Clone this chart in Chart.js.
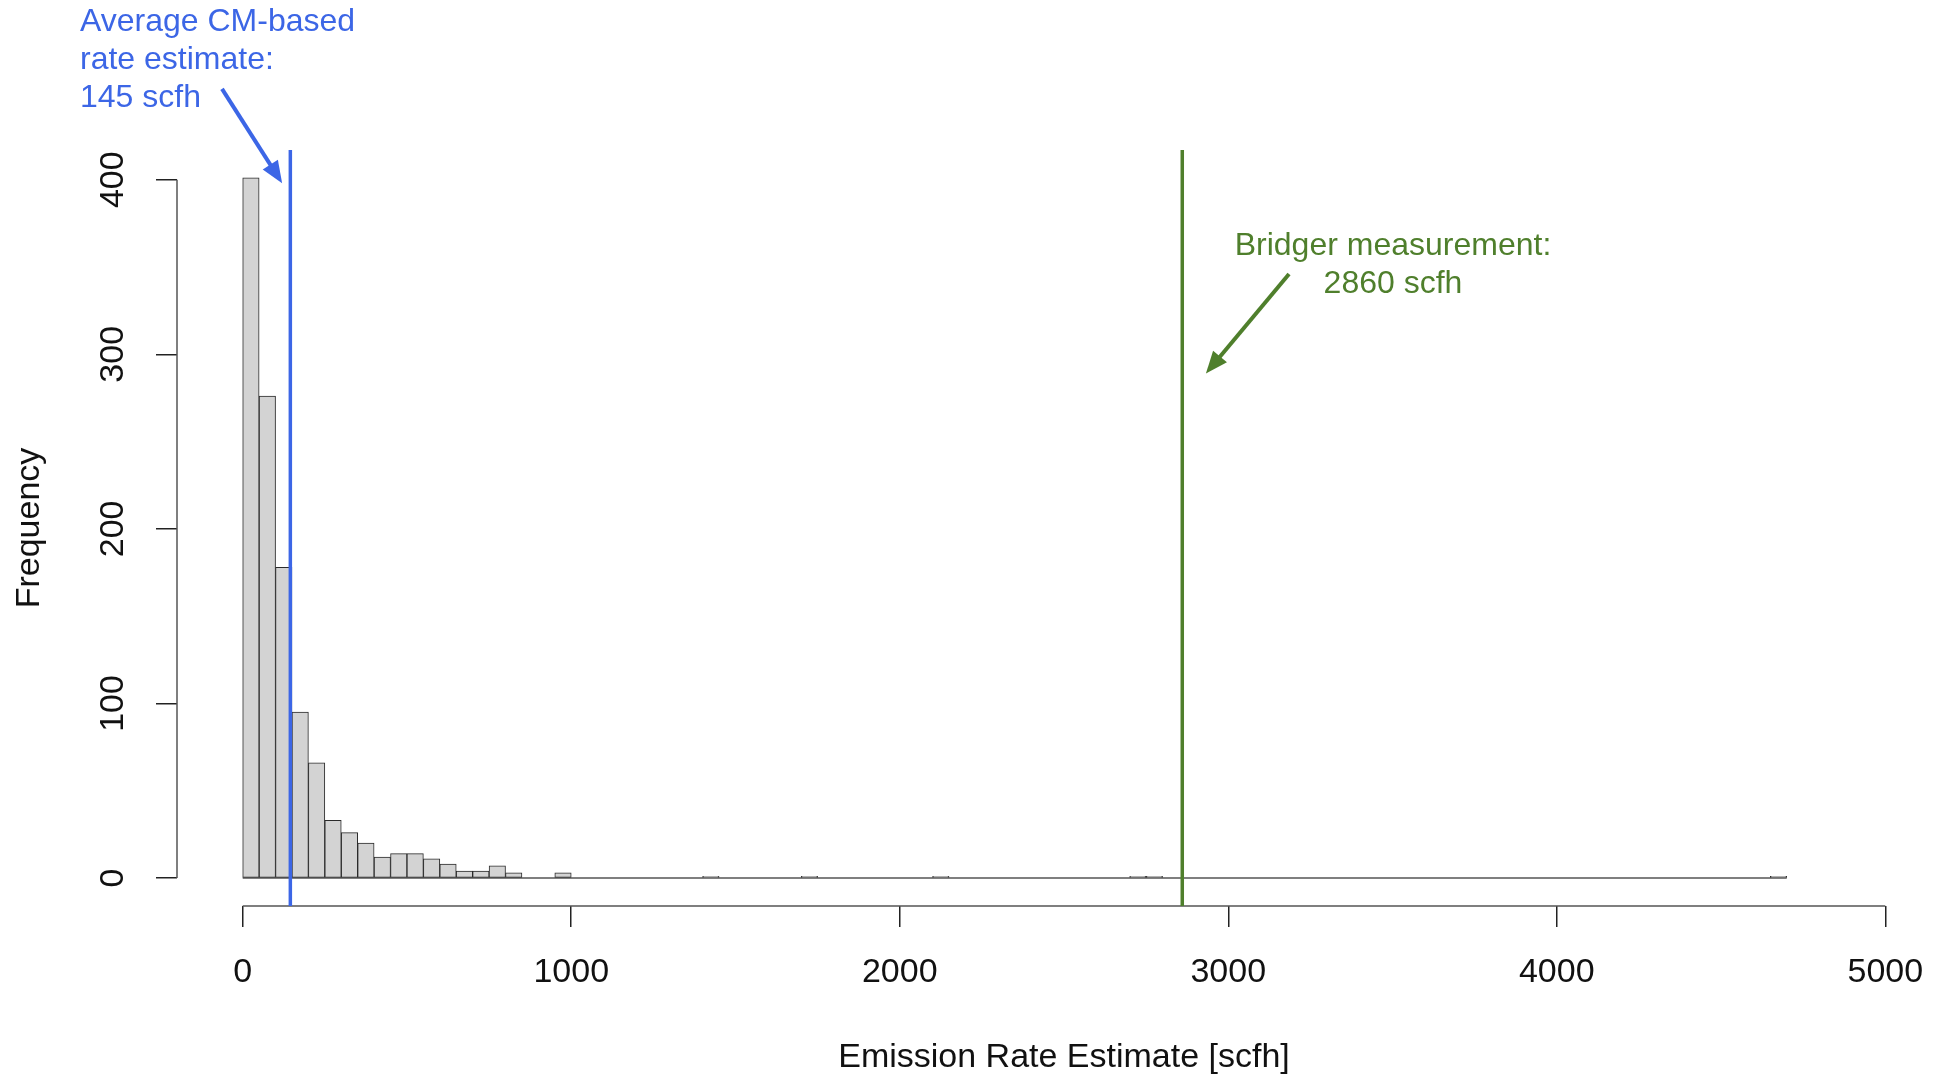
<!DOCTYPE html>
<html>
<head>
<meta charset="utf-8">
<title>Emission rate estimate histogram</title>
<script src="https://cdn.jsdelivr.net/npm/chart.js@4.4.1/dist/chart.umd.min.js"></script>
<style>
  html, body { margin: 0; padding: 0; background: #fff; overflow: hidden; }
  #wrap { width: 1951px; height: 1075px; }
</style>
</head>
<body>
<div id="wrap"><canvas id="histChart" width="1951" height="1075"></canvas></div>
<script>
// histogram bins are 50 scfh wide, each bar sits on its bin middle
const binMids = [25, 75, 125, 175, 225, 275, 325, 375, 425, 475, 525, 575, 625, 675, 725, 775, 825, 975, 1425, 1725, 2125, 2725, 2775, 4675];
const counts  = [401, 276, 178, 95, 66, 33, 26, 20, 12, 14, 14, 11, 8, 4, 4, 7, 3, 3, 1, 1, 1, 1, 1, 1];
const histRange = [0, 4700];
const xTicks = [0, 1000, 2000, 3000, 4000, 5000];
const yTicks = [0, 100, 200, 300, 400];
const cmMean = 145;
const bridgerRate = 2860;

// annotation arrows, in data units: [tail, tip]
const cmArrow = [[-63, 452], [120, 398]];
const bridgerArrow = [[3185, 346], [2932, 289]];

const fontFamily = "'Liberation Sans', Arial, Helvetica, sans-serif";
const blue = '#3c66e6';
const green = '#4f7f2c';
const axisFont = { family: fontFamily, size: 34 };

function drawArrow(ctx, x1, y1, x2, y2, color) {
  const a = Math.atan2(y2 - y1, x2 - x1);
  const c = Math.cos(a), s = Math.sin(a);
  const head = 22, half = 9;
  ctx.save();
  ctx.strokeStyle = color;
  ctx.fillStyle = color;
  ctx.lineWidth = 4;
  ctx.beginPath();
  ctx.moveTo(x1, y1);
  ctx.lineTo(x2 - c * head * 0.8, y2 - s * head * 0.8);
  ctx.stroke();
  ctx.beginPath();
  ctx.moveTo(x2, y2);
  ctx.lineTo(x2 - head * c + half * s, y2 - head * s - half * c);
  ctx.lineTo(x2 - head * c - half * s, y2 - head * s + half * c);
  ctx.closePath();
  ctx.fill();
  ctx.restore();
}

const annotate = {
  id: 'annotate',
  afterDraw(chart) {
    const ctx = chart.ctx;
    const x = chart.scales.x, y = chart.scales.y;
    const area = chart.chartArea;

    // R style axis lines, only across the tick range
    ctx.save();
    ctx.strokeStyle = '#555';
    ctx.lineWidth = 1.5;
    ctx.beginPath();
    ctx.moveTo(x.getPixelForValue(xTicks[0]), area.bottom);
    ctx.lineTo(x.getPixelForValue(xTicks[xTicks.length - 1]), area.bottom);
    ctx.moveTo(area.left, y.getPixelForValue(yTicks[0]));
    ctx.lineTo(area.left, y.getPixelForValue(yTicks[yTicks.length - 1]));
    ctx.stroke();

    // vertical reference lines
    ctx.lineWidth = 3.5;
    ctx.strokeStyle = blue;
    ctx.beginPath();
    ctx.moveTo(x.getPixelForValue(cmMean), area.top);
    ctx.lineTo(x.getPixelForValue(cmMean), area.bottom);
    ctx.stroke();
    ctx.strokeStyle = green;
    ctx.beginPath();
    ctx.moveTo(x.getPixelForValue(bridgerRate), area.top);
    ctx.lineTo(x.getPixelForValue(bridgerRate), area.bottom);
    ctx.stroke();
    ctx.restore();

    drawArrow(ctx, x.getPixelForValue(cmArrow[0][0]), y.getPixelForValue(cmArrow[0][1]),
      x.getPixelForValue(cmArrow[1][0]), y.getPixelForValue(cmArrow[1][1]), blue);
    drawArrow(ctx, x.getPixelForValue(bridgerArrow[0][0]), y.getPixelForValue(bridgerArrow[0][1]),
      x.getPixelForValue(bridgerArrow[1][0]), y.getPixelForValue(bridgerArrow[1][1]), green);

    ctx.save();
    ctx.font = '32px ' + fontFamily;
    ctx.textBaseline = 'alphabetic';
    ctx.fillStyle = blue;
    ctx.textAlign = 'left';
    ctx.fillText('Average CM-based', 80, 31);
    ctx.fillText('rate estimate:', 80, 69);
    ctx.fillText(cmMean + ' scfh', 80, 107);
    ctx.fillStyle = green;
    ctx.textAlign = 'center';
    ctx.fillText('Bridger measurement:', 1393, 255);
    ctx.fillText(bridgerRate + ' scfh', 1393, 293);
    ctx.restore();
  }
};

new Chart(document.getElementById('histChart'), {
  type: 'bar',
  data: {
    datasets: [
      {
        type: 'line',
        data: histRange.map(v => ({ x: v, y: 0 })),
        borderColor: '#555',
        borderWidth: 1.5,
        pointRadius: 0,
        order: 2
      },
      {
        data: binMids.map((v, i) => ({ x: v, y: counts[i] })),
        backgroundColor: '#d3d3d3',
        borderColor: '#2a2a2a',
        borderWidth: 1,
        borderSkipped: false,
        barPercentage: 1,
        categoryPercentage: 1,
        order: 1
      }
    ]
  },
  options: {
    responsive: false,
    animation: false,
    layout: { autoPadding: false, padding: { left: 0, top: 150, right: 0, bottom: 0 } },
    plugins: {
      legend: { display: false },
      tooltip: { enabled: false }
    },
    scales: {
      x: {
        type: 'linear',
        min: -200,
        max: 5200,
        offset: false,
        afterBuildTicks: s => { s.ticks = xTicks.map(v => ({ value: v })); },
        afterFit: s => { s.height = 169; },
        border: { display: false },
        grid: { offset: false, drawOnChartArea: false, drawTicks: true, tickLength: 21, color: '#222', lineWidth: 1.5 },
        ticks: { font: axisFont, color: '#111', padding: 25, maxRotation: 0, autoSkip: false, callback: v => String(v) },
        title: {
          display: true,
          text: 'Emission Rate Estimate [scfh]',
          font: { family: fontFamily, size: 34, lineHeight: 1.0 },
          color: '#111',
          padding: { top: 0, bottom: 0 }
        }
      },
      y: {
        min: -16,
        max: 417,
        afterBuildTicks: s => { s.ticks = yTicks.map(v => ({ value: v })); },
        afterFit: s => { s.width = 177; },
        border: { display: false },
        grid: { drawOnChartArea: false, drawTicks: true, tickLength: 21, color: '#222', lineWidth: 1.5 },
        ticks: { font: axisFont, color: '#111', padding: 14, minRotation: 90, maxRotation: 90, crossAlign: 'center', callback: v => String(v) },
        title: {
          display: true,
          text: 'Frequency',
          font: { family: fontFamily, size: 34, lineHeight: 1.1 },
          color: '#111',
          padding: { top: 11, bottom: 0 }
        }
      }
    }
  },
  plugins: [annotate]
});
</script>
</body>
</html>
